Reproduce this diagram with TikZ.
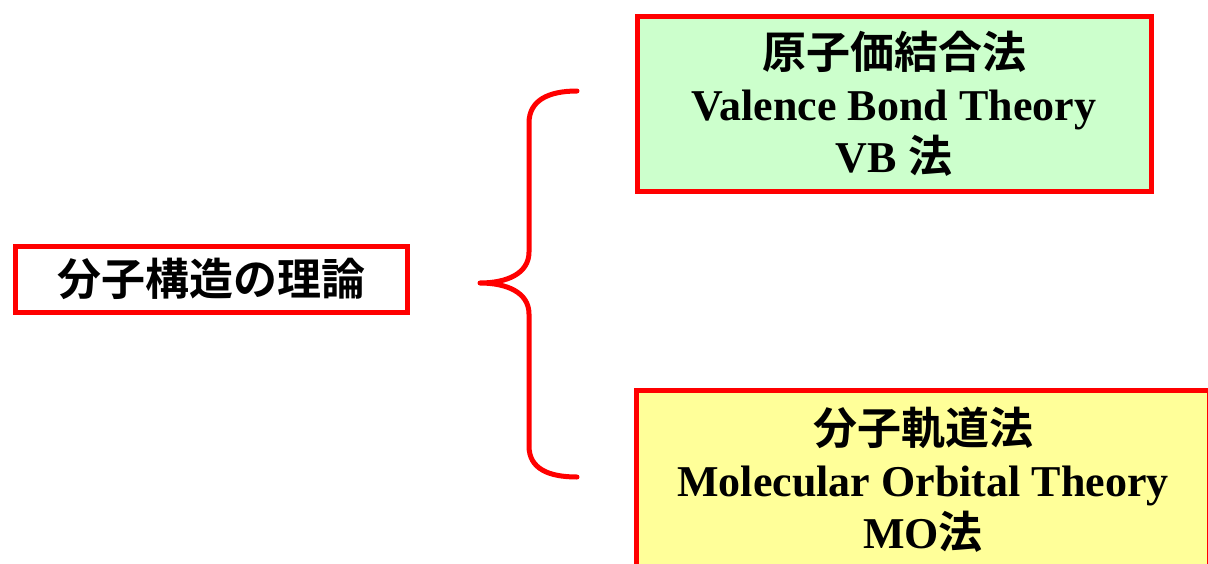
\documentclass[tikz,border=0pt]{standalone}
\usepackage{fontspec}
\setmainfont{Liberation Serif}
\newfontfamily\jpfont{Noto Sans CJK JP}[BoldFont={Noto Sans CJK JP Bold}]
\definecolor{boxred}{RGB}{255,0,0}
\definecolor{vbgreen}{RGB}{204,255,204}
\definecolor{moyellow}{RGB}{255,255,153}
\begin{document}
\begin{tikzpicture}[x=1pt,y=-1pt,
  redbox/.style={draw=boxred,line width=5pt,inner sep=0pt,align=center,
    font=\fontsize{44}{52}\selectfont\bfseries},
  bracepath/.style={draw=boxred,line width=5pt,line cap=round,line join=round}]
\useasboundingbox (0,0) rectangle (1208,563);
\fill[white] (0,0) rectangle (1208,563);
\node[redbox,fill=white,minimum width=392pt,minimum height=66pt] (theory) at (211.5,279)
  {\raisebox{-5pt}{\jpfont 分子構造の理論}};
\node[redbox,fill=vbgreen,minimum width=514pt,minimum height=175pt] (vb) at (894,104)
  {{\jpfont 原子価結合法}\\Valence Bond Theory\\VB {\jpfont 法}};
\begin{scope}
\clip (0,0) rectangle (1208,563);
\node[redbox,fill=moyellow,minimum width=573pt,minimum height=180pt] (mo) at (923,480)
  {{\jpfont 分子軌道法}\\Molecular Orbital Theory\\MO{\jpfont 法}};
\end{scope}
\coordinate (bt) at (577,91);
\coordinate (bm) at (480,283);
\coordinate (bb) at (577,477);
\draw[bracepath] (bt) .. controls (549,91) and (529,100) .. (529,123)
  -- (529,252) .. controls (529,274) and (506,283) .. (bm)
  .. controls (506,283) and (529,292) .. (529,314)
  -- (529,446) .. controls (529,469) and (549,477) .. (bb);
\end{tikzpicture}
\end{document}
